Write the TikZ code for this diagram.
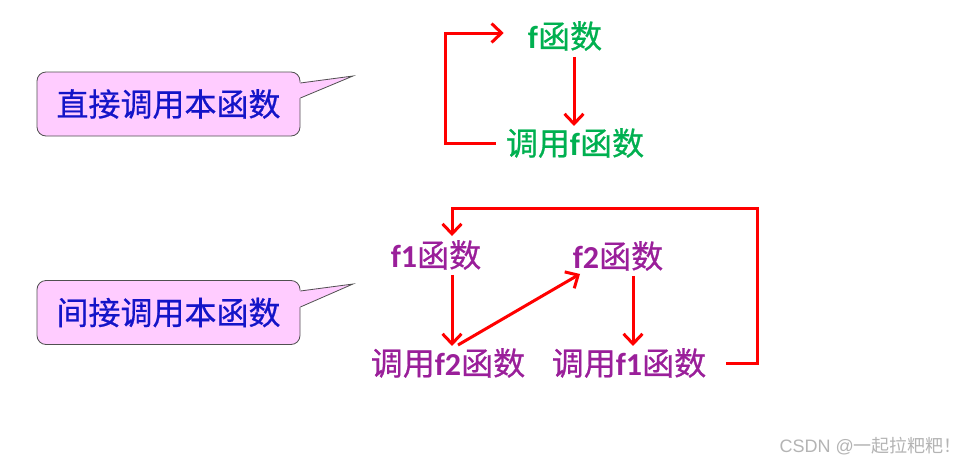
\documentclass[tikz,border=0pt]{standalone}
\usepackage{fontspec}
\setmainfont{Noto Sans CJK SC}
\newfontfamily\cjk[FakeBold=0.6]{Noto Sans CJK SC}
\newfontfamily\wmcjk{Noto Sans CJK SC}
\newfontfamily\lat{Carlito}
\newfontfamily\wm{Liberation Sans}
\usetikzlibrary{arrows.meta}
\definecolor{calloutfill}{HTML}{FFCCFF}
\definecolor{calloutdraw}{HTML}{505050}
\definecolor{callouttext}{HTML}{1414C8}
\definecolor{grn}{HTML}{00B050}
\definecolor{purp}{HTML}{9A1F9A}
\definecolor{redline}{HTML}{FF0000}
\definecolor{wmgray}{HTML}{B4B4B4}
\newcommand{\fl}[1]{{\lat\bfseries #1}}
\tikzset{
  calloutbox/.style={draw=calloutdraw, line width=0.8pt, fill=calloutfill, rounded corners=9pt,
    minimum width=263pt, minimum height=64pt, inner sep=0pt,
    font=\fontsize{32}{34}\selectfont\cjk, text=callouttext},
  tailfill/.style={fill=calloutfill},
  taildraw/.style={draw=calloutdraw, line width=0.8pt, line join=miter},
  grnlabel/.style={font=\fontsize{32}{34}\selectfont\cjk, text=grn, inner sep=0pt},
  purplabel/.style={font=\fontsize{32}{34}\selectfont\cjk, text=purp, inner sep=0pt},
  arr/.style={draw=redline, line width=3pt, -{Straight Barb[length=10pt,width=19pt,line width=3pt]}},
}
\begin{document}
\begin{tikzpicture}[x=1pt,y=-1pt]
\useasboundingbox[fill=white] (0,0) rectangle (977,466);

% callout 1
\node[calloutbox] (c1) at (168.5,104) {直接调用本函数};
\fill[tailfill] (296,83) -- (353,76) -- (300,98) -- (296,98) -- cycle;
\draw[taildraw] (c1.east |- 0,83) -- (353,76) -- (c1.east |- 0,98);

% callout 2
\node[calloutbox] (c2) at (168.5,312.5) {间接调用本函数};
\fill[tailfill] (296,291) -- (353,284) -- (300,307) -- (296,307) -- cycle;
\draw[taildraw] (c2.east |- 0,291) -- (353,284) -- (c2.east |- 0,307);

% direct recursion
\node[grnlabel] (f) at (565,36) {\fl{f}函数};
\node[grnlabel] (cf) at (575,143) {调用\fl{f}函数};
\draw[arr] ([xshift=9pt,yshift=-6pt]f.south) -- ([xshift=9pt,yshift=2pt]f.south |- cf.north);
\draw[arr] ([xshift=-10pt]cf.west) -- ++(-50,0) |- ([xshift=-24pt,yshift=3pt]f.west);

% indirect recursion
\node[purplabel] (f1) at (436,255) {\fl{f1}函数};
\node[purplabel] (f2) at (618,256) {\fl{f2}函数};
\node[purplabel] (cf2) at (448,363) {调用\fl{f2}函数};
\node[purplabel] (cf1) at (629,363) {调用\fl{f1}函数};
\draw[arr] ([xshift=16pt,yshift=-5pt]f1.south) -- ([xshift=16pt,yshift=2pt]f1.south |- cf2.north);
\draw[arr] ([xshift=10pt,yshift=3pt]cf2.north) -- ([xshift=-38pt,yshift=-3pt]f2.south);
\draw[arr] ([xshift=15pt,yshift=-5pt]f2.south) -- ([xshift=15pt,yshift=2pt]f2.south |- cf1.north);
\draw[arr] ([xshift=20pt]cf1.east) -- ++(31,0) |- (452,208) -- ([xshift=16pt,yshift=4pt]f1.north);

% watermark
\node[text=wmgray, inner sep=0pt, anchor=east] (wm) at (962,446) {\fontsize{18}{20}\selectfont\wm CSDN @\wmcjk 一起拉粑粑！};
\end{tikzpicture}
\end{document}
